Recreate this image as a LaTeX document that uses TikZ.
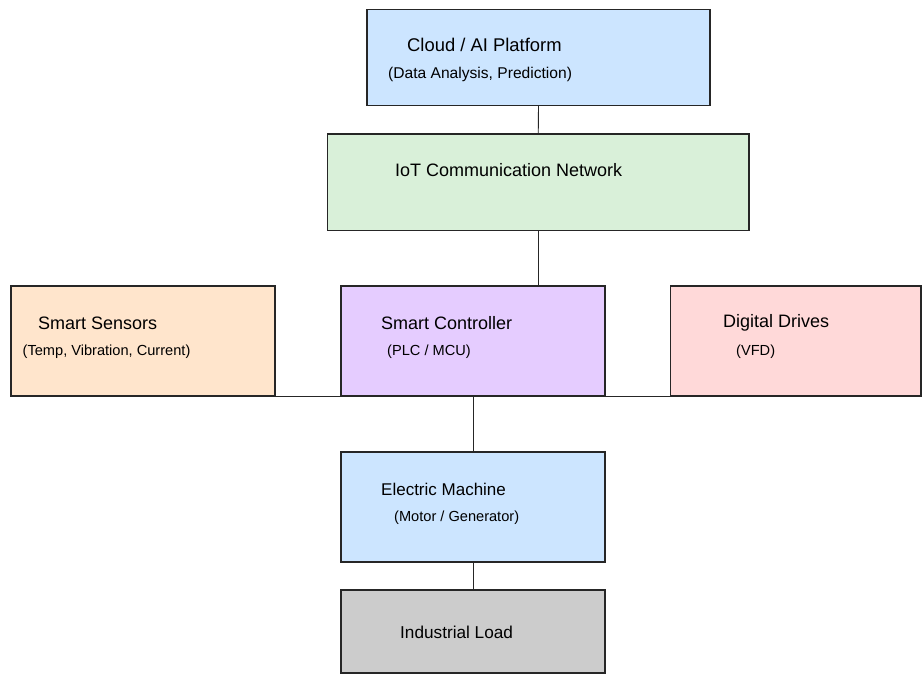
\documentclass[tikz,border=0pt]{standalone}
\usepackage{fontspec}
\setmainfont{Liberation Sans}
\definecolor{cloudblue}{HTML}{CCE5FF}
\definecolor{netgreen}{HTML}{D9F0D9}
\definecolor{sensororange}{HTML}{FFE5CC}
\definecolor{ctrlpurple}{HTML}{E5CCFF}
\definecolor{drivepink}{HTML}{FFD9D9}
\definecolor{loadgray}{HTML}{CCCCCC}
\tikzset{
  block/.style={draw=black!85, line width=1.2pt, inner sep=0pt},
  title/.style={anchor=west, inner sep=0pt, font=\fontsize{18}{21}\selectfont},
  note/.style={anchor=west, inner sep=0pt, font=\fontsize{14.6}{17}\selectfont},
  wire/.style={draw=black!85, line width=0.9pt}
}
\begin{document}
\begin{tikzpicture}[x=1pt, y=-1pt]
				\useasboundingbox (0,0) rectangle (922,674);

				\node[block, fill=cloudblue, minimum width=343pt, minimum height=96pt] (cloud) at (538.5,57.5) {};
				\node[block, fill=netgreen, minimum width=421.5pt, minimum height=96.5pt] (network) at (538.25,182.25) {};
				\node[block, fill=sensororange, minimum width=264pt, minimum height=110pt] (sensors) at (143,341) {};
				\node[block, fill=ctrlpurple, minimum width=264pt, minimum height=110pt] (controller) at (473,341) {};
				\node[block, fill=drivepink, minimum width=250.5pt, minimum height=110pt] (drives) at (795.75,341) {};
				\node[block, fill=cloudblue, minimum width=264pt, minimum height=110pt] (machine) at (473,507) {};
				\node[block, fill=loadgray, minimum width=264pt, minimum height=83pt] (load) at (473,631.5) {};

				\node[title, font=\fontsize{18.4}{21}\selectfont] (cloudtitle) at (407,45) {Cloud / AI Platform};
				\node[note, font=\fontsize{15.6}{18}\selectfont] (cloudnote) at (388,74) {(Data Analysis, Prediction)};
				\node[title] (nettitle) at (395,170) {IoT Communication Network};
				\node[title] (sensortitle) at (38,323) {Smart Sensors};
				\node[note] (sensornote) at (22.5,352) {(Temp, Vibration, Current)};
				\node[title] (ctrltitle) at (381,323) {Smart Controller};
				\node[note] (ctrlnote) at (387,352) {(PLC / MCU)};
				\node[title] (drivetitle) at (723,323) {Digital Drives};
				\node[note] (drivenote) at (736,352) {(VFD)};
				\node[title, font=\fontsize{17}{20}\selectfont] (machinetitle) at (381,489) {Electric Machine};
				\node[note] (machinenote) at (394,518) {(Motor / Generator)};
				\node[title, font=\fontsize{17.2}{20}\selectfont] (loadtitle) at (400,632) {Industrial Load};

				\draw[wire] (cloud.south) -- (network.north);
				\draw[wire] (network.south) -- (network.south |- controller.north);
				\draw[wire] (sensors.south) -- (controller.south);
				\draw[wire] (controller.south) -- (drives.south);
				\draw[wire] (controller.south) -- (machine.north);
				\draw[wire] (machine.south) -- (load.north);

\end{tikzpicture}
\end{document}
